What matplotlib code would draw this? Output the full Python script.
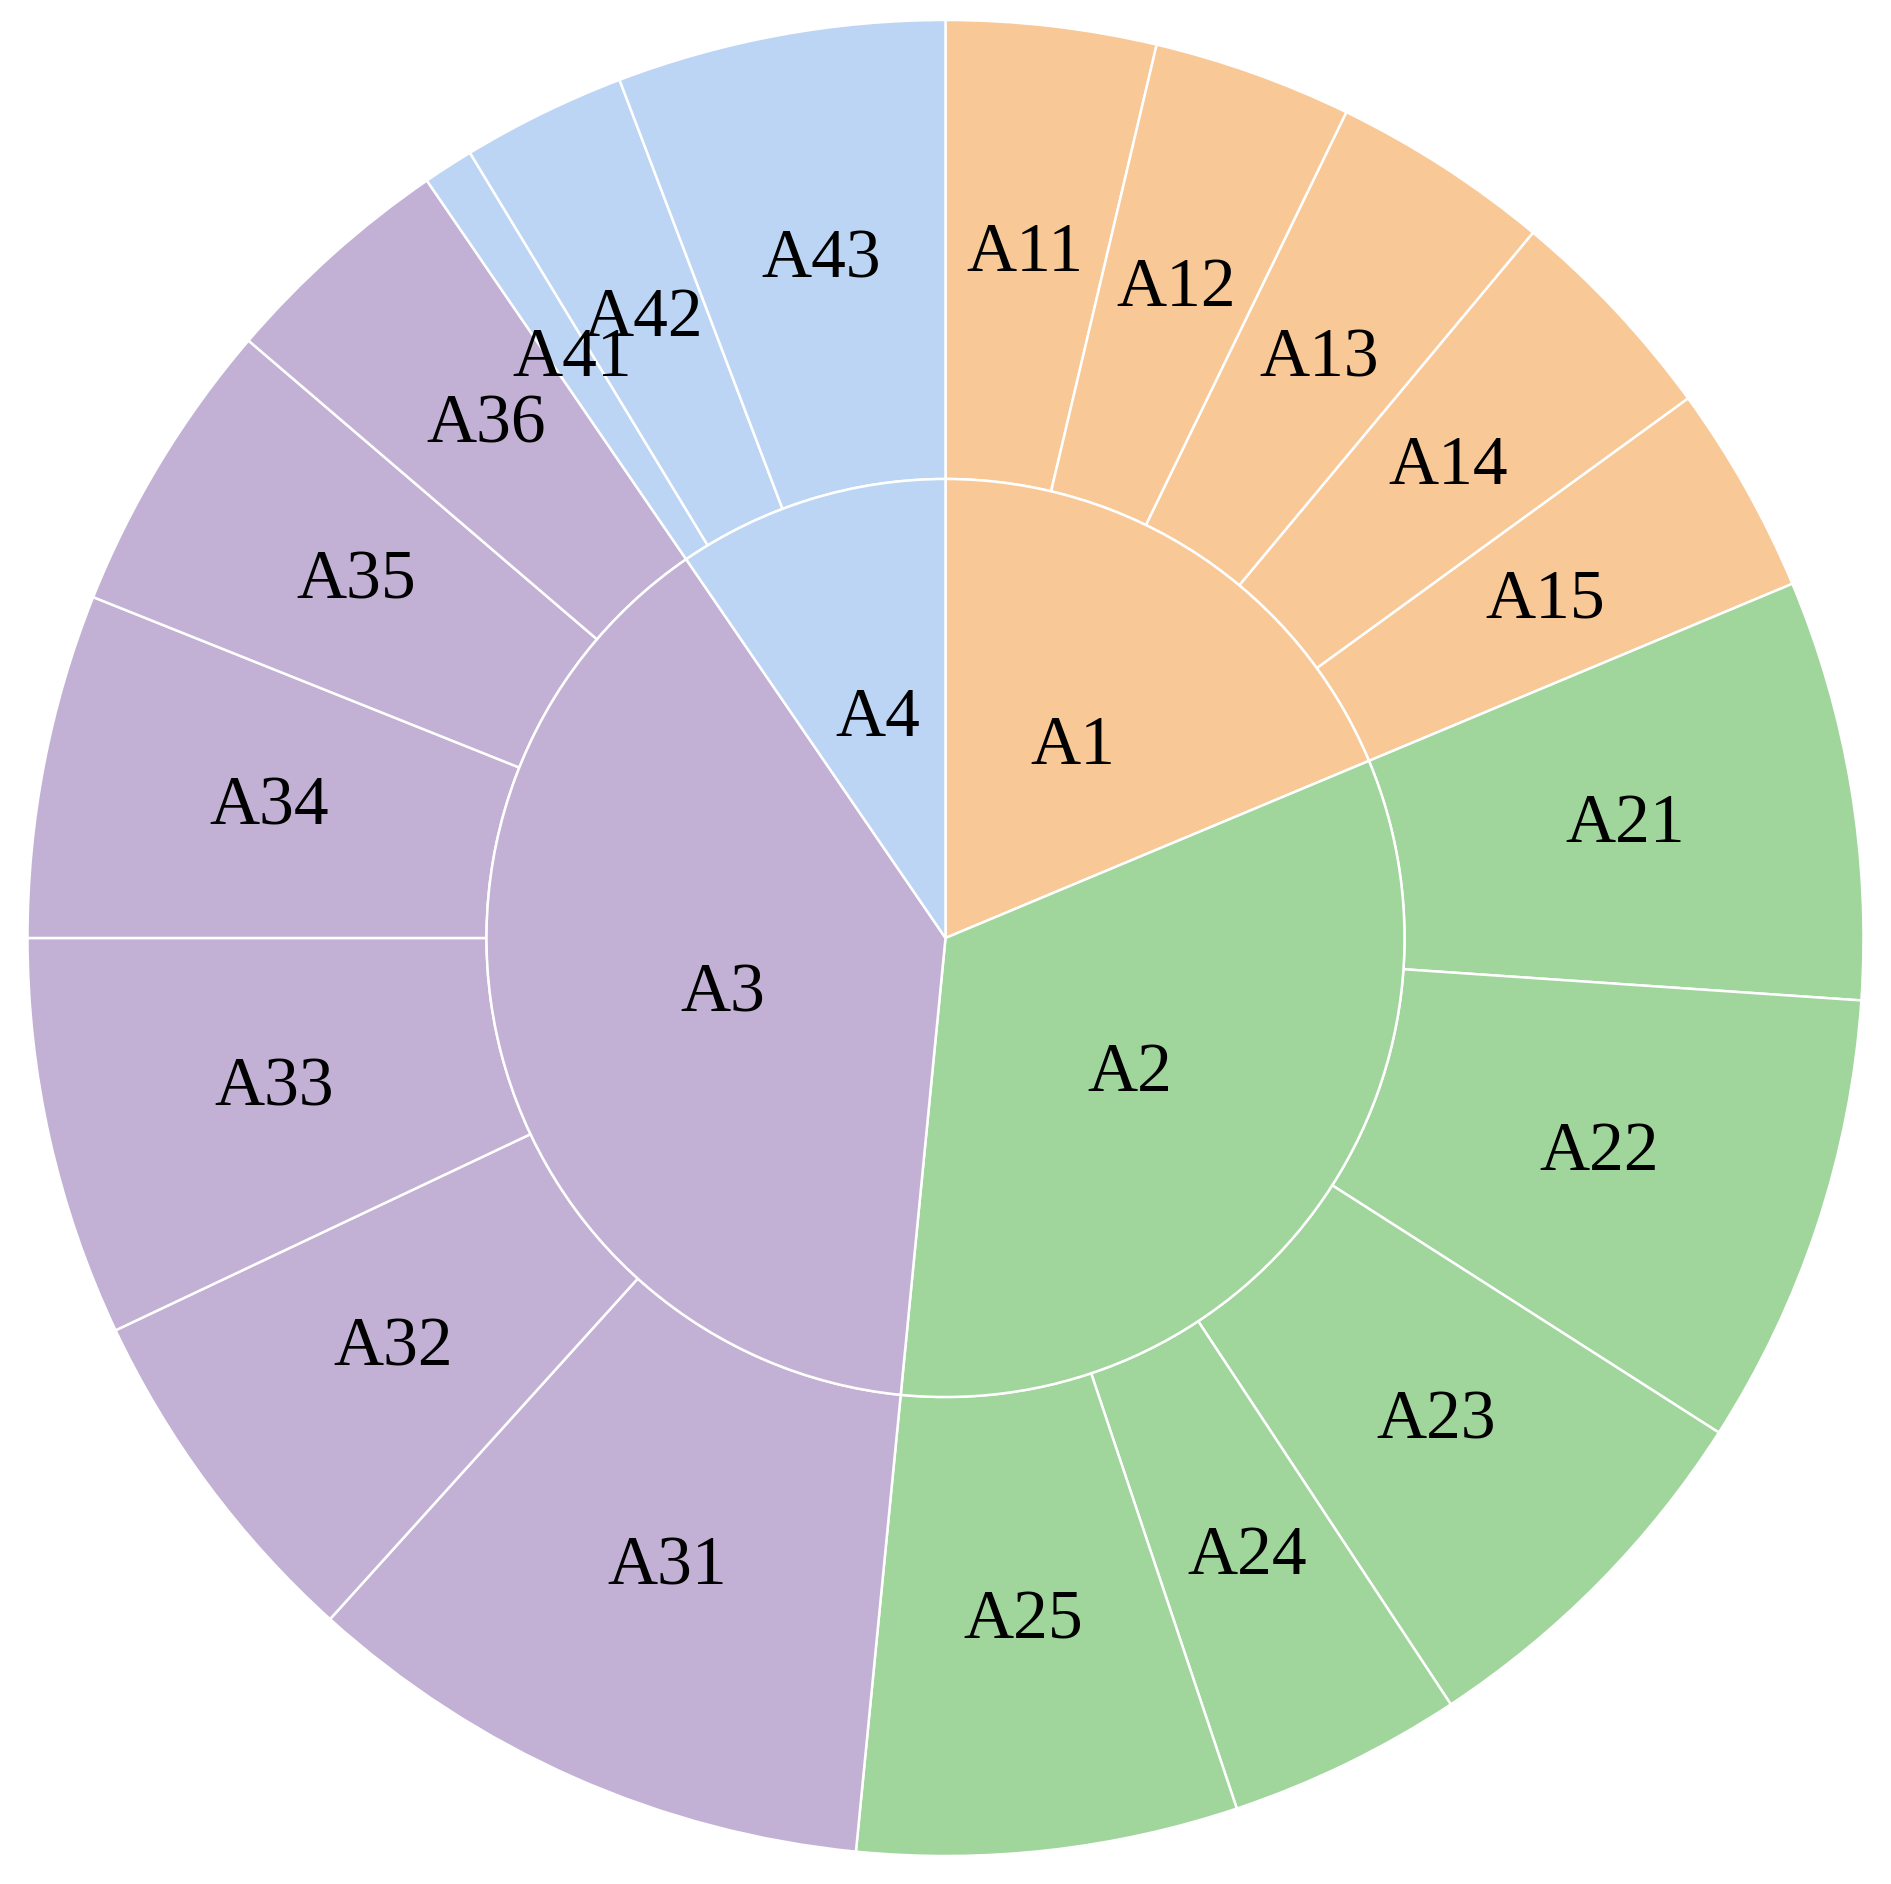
import matplotlib.pyplot as plt

# inner ring (angles in degrees)
inner_labels = ['A1', 'A2', 'A3', 'A4']
inner_values = [67.3, 118.3, 140.0, 34.4]
inner_colors = ['#F9C897', '#A0D59C', '#C2B1D5', '#BCD5F4']

# outer ring
outer_labels = ['A11', 'A12', 'A13', 'A14', 'A15',
                'A21', 'A22', 'A23', 'A24', 'A25',
                'A31', 'A32', 'A33', 'A34', 'A35', 'A36',
                'A41', 'A42', 'A43']
outer_values = [13.3, 12.6, 13.9, 14.2, 13.3,
                26.6, 28.7, 24.0, 14.9, 24.1,
                36.5, 22.6, 25.3, 21.8, 18.8, 15.0,
                3.2, 10.4, 20.8]
outer_groups = [0] * 5 + [1] * 5 + [2] * 6 + [3] * 3
outer_colors = [inner_colors[g] for g in outer_groups]

plt.rcParams['font.family'] = ['Liberation Serif', 'DejaVu Serif']

fig = plt.figure(figsize=(18.91, 18.84), dpi=100)
ax = fig.add_axes([0, 0, 1, 1])

edge = dict(edgecolor='white', linewidth=1.8)
txt = dict(fontsize=50, ha='center', va='center', color='black')

ax.pie(outer_values, labels=outer_labels, colors=outer_colors, radius=1.0,
       startangle=90, counterclock=False, labeldistance=0.75,
       wedgeprops=dict(width=0.5, **edge), textprops=txt)
ax.pie(inner_values, labels=inner_labels, colors=inner_colors, radius=0.5,
       startangle=90, counterclock=False, labeldistance=0.5,
       wedgeprops=edge, textprops=txt)

R = 918.0
cx, cy = 945.5, 938.0
ax.set_xlim(-cx / R, (1891 - cx) / R)
ax.set_ylim(-(1884 - cy) / R, cy / R)
ax.set_aspect('equal')
ax.axis('off')

fig.savefig('out.png', dpi=100, facecolor='white')
